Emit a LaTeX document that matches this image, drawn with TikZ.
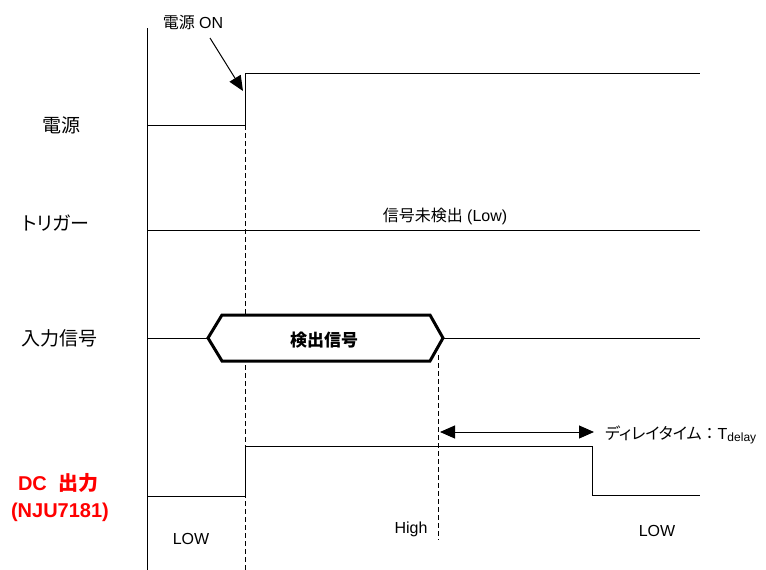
\documentclass[tikz,border=0pt]{standalone}
\usepackage{fontspec}
\setmainfont{Liberation Sans}
\newfontfamily\jp[RawFeature=+palt]{Noto Sans CJK JP}
\newfontfamily\jpf{Noto Sans CJK JP}
\usetikzlibrary{arrows.meta}
\begin{document}
\begin{tikzpicture}[x=1pt,y=-1pt,
  sig/.style={line width=1pt},
  dashline/.style={line width=0.9pt,dash pattern=on 5pt off 3pt},
  lbl/.style={font=\fontsize{19}{21}\selectfont\jp,anchor=center},
  small/.style={font=\fontsize{16}{18}\selectfont,anchor=center},
  tri/.style={-{Triangle[width=13pt,length=15pt]}},
]
\useasboundingbox (0,0) rectangle (766,570);
% axis
\coordinate (axT) at (147,28);
\coordinate (axB) at (147,570);
\draw[sig] (axT) -- (axB);
% power
\coordinate (p0) at (147,125);
\coordinate (p1) at (245,125);
\coordinate (p2) at (245,73);
\coordinate (p3) at (700,73);
\draw[sig] (p0) -- (p1) -- (p2) -- (p3);
% dashed lines
\coordinate (d1t) at (245,85);
\coordinate (d1b) at (245,570);
\draw[dashline] (d1t) -- (d1b);
\coordinate (d2t) at (438,355);
\coordinate (d2b) at (438,540);
\draw[dashline] (d2t) -- (d2b);
% power on arrow
\node[small] (pon) at (193,22) {{\jpf 電源} ON};
\coordinate (ps) at (210,38);
\coordinate (pe) at (243,91);
\draw[line width=1pt,tri] (ps) -- (pe);
% trigger
\coordinate (t0) at (147,230);
\coordinate (t1) at (700,230);
\draw[sig] (t0) -- (t1);
\node[small] (tlow) at (445,216) {{\jpf 信号未検出} (Low)};
% input signal
\coordinate (i0) at (147,338);
\coordinate (i1) at (700,338);
\draw[sig] (i0) -- (208,338);
\draw[sig] (443,338) -- (i1);
\draw[line width=3pt,line join=miter,fill=white] (208,338) -- (222,315) -- (430,315) -- (443,338) -- (430,361) -- (222,361) -- cycle;
\node[font=\fontsize{17}{19}\selectfont\jpf\bfseries] (det) at (324,340) {検出信号};
% output
\coordinate (o0) at (147,496);
\draw[sig] (o0) -- (245,496) -- (245,446) -- (592,446) -- (592,495) -- (700,495);
% delay arrow
\coordinate (da) at (440,432);
\coordinate (db) at (594,432);
\draw[line width=1pt,{Triangle[width=13pt,length=15pt]}-{Triangle[width=13pt,length=15pt]}] (da) -- (db);
\node[anchor=west,inner sep=0pt,font=\fontsize{16}{18}\selectfont] (dl) at (605,435) {{\jp ディレイタイム}{\jpf ：}T\textsubscript{\fontsize{12}{12}\selectfont delay}};
% labels
\node[lbl] (l1) at (61,125) {電源};
\node[lbl] (l2) at (56,223) {トリガー};
\node[lbl] (l3) at (59,338) {入力信号};
\node[font=\fontsize{20}{29}\selectfont\bfseries,text=red,anchor=center] (l4) at (58,483) {DC\ \ {\jpf 出力}};
\node[font=\fontsize{20}{29}\selectfont\bfseries,text=red,anchor=center] (l5) at (60,512) {(NJU7181)};
\node[small] (s1) at (191,539) {LOW};
\node[small] (s2) at (411,529) {High};
\node[small] (s3) at (657,531) {LOW};
\end{tikzpicture}
\end{document}
